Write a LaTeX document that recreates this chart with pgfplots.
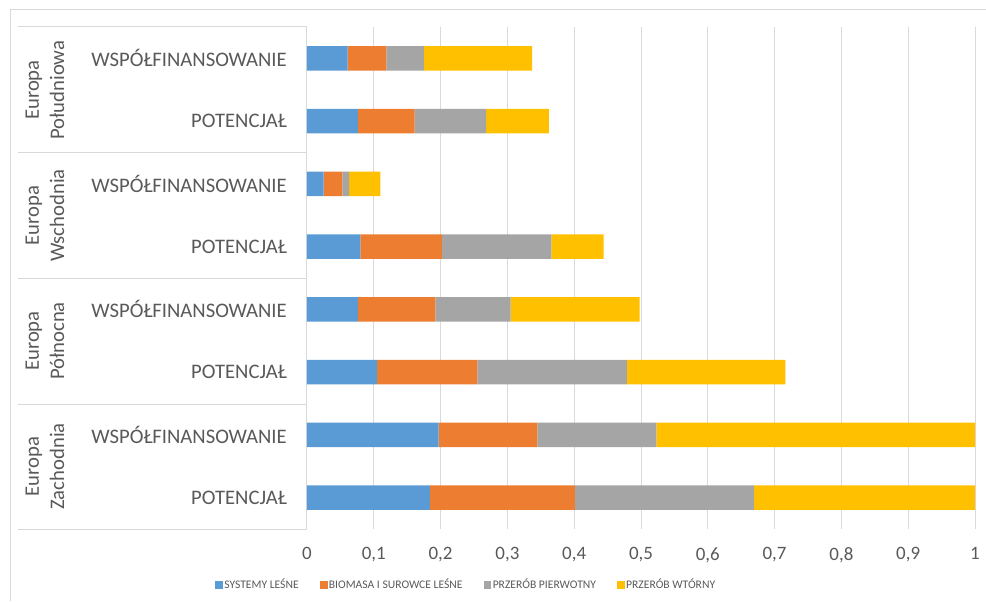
\documentclass[border=0pt]{standalone}
\usepackage{pgfplots}
\pgfplotsset{compat=1.18}
\usepackage{fontspec}
\setmainfont{Carlito}
\definecolor{c1}{HTML}{5B9BD5}
\definecolor{c2}{HTML}{ED7D31}
\definecolor{c3}{HTML}{A5A5A5}
\definecolor{c4}{HTML}{FFC000}
\definecolor{txt}{HTML}{595959}
\definecolor{grd}{HTML}{D9D9D9}
\begin{document}
\begin{tikzpicture}[x=0.75pt,y=0.75pt]
\path[use as bounding box] (0,0) rectangle (986,601);
\draw[grd, line width=0.75pt] (10,0) -- (10,591) -- (986,591);
\foreach \yy in {574,448,323,197,72} \draw[grd, line width=0.75pt] (18,\yy) -- (307,\yy);
\begin{axis}[
  at={(230.25pt,54pt)}, anchor=south west,
  scale only axis, width=501pt, height=376.5pt,
  xbar stacked, bar width=18.5pt,
  xmin=0, xmax=1, ymin=-0.5, ymax=7.5,
  ytick={0,1,2,3,4,5,6,7},
  yticklabels={POTENCJAŁ,WSPÓŁFINANSOWANIE,POTENCJAŁ,WSPÓŁFINANSOWANIE,POTENCJAŁ,WSPÓŁFINANSOWANIE,POTENCJAŁ,WSPÓŁFINANSOWANIE},
  xtick={0,0.1,0.2,0.3,0.4,0.5,0.6,0.7,0.8,0.9,1},
  xticklabels={0,{0,1},{0,2},{0,3},{0,4},{0,5},{0,6},{0,7},{0,8},{0,9},1},
  xmajorgrids, grid style={grd, line width=0.75pt},
  axis line style={draw=none},
  major tick length=0pt,
  yticklabel style={font=\fontsize{15.5}{18}\selectfont, text=txt, anchor=east, inner sep=0pt, xshift=-15pt},
  xticklabel style={font=\fontsize{14.2}{17}\selectfont, text=txt, anchor=north, inner sep=0pt, yshift=-13.5pt},
  legend columns=4,
  legend style={draw=none, fill=none, at={(0.238,-0.1116)}, anchor=center,
    font=\fontsize{8.7}{10}\selectfont, text=txt,
    /tikz/every even column/.append style={column sep=15pt},
    nodes={inner sep=1pt}},
  legend image code/.code={\path[#1] (0pt,-2.8pt) rectangle (5.6pt,2.8pt);},
]
\addplot[fill=c1, draw=none] coordinates {(0.184,0) (0.197,1) (0.105,2) (0.076,3) (0.080,4) (0.025,5) (0.076,6) (0.061,7)};
\addplot[fill=c2, draw=none] coordinates {(0.217,0) (0.148,1) (0.150,2) (0.116,3) (0.122,4) (0.028,5) (0.085,6) (0.058,7)};
\addplot[fill=c3, draw=none] coordinates {(0.268,0) (0.178,1) (0.224,2) (0.113,3) (0.164,4) (0.010,5) (0.107,6) (0.056,7)};
\addplot[fill=c4, draw=none] coordinates {(0.331,0) (0.477,1) (0.237,2) (0.193,3) (0.078,4) (0.047,5) (0.094,6) (0.162,7)};
\legend{SYSTEMY LEŚNE, BIOMASA I SUROWCE LEŚNE, PRZERÓB PIERWOTNY, PRZERÓB WTÓRNY}
\end{axis}
\foreach \yc/\nm in {511/Południowa,385.5/Wschodnia,260/Północna,134.5/Zachodnia}
  \node[rotate=90, align=center, text=txt, font=\fontsize{15.5}{19}\selectfont, inner sep=0pt] at (45,\yc) {Europa\\\nm};
\end{tikzpicture}
\end{document}
